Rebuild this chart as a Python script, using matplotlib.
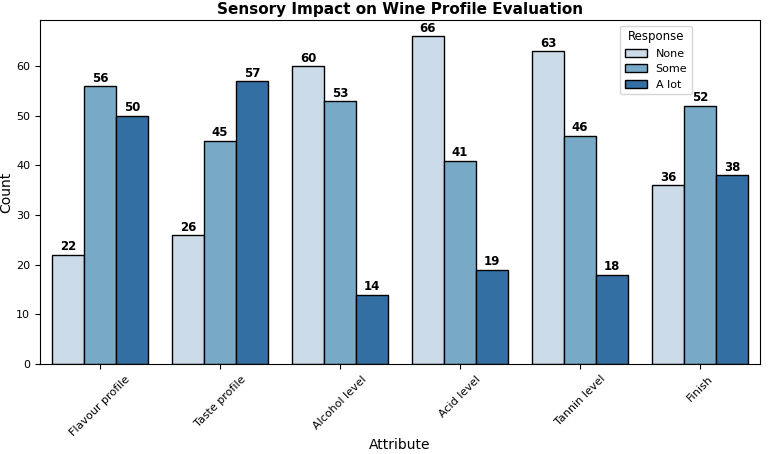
import numpy as np
import pandas as pd
import matplotlib
matplotlib.use("Agg")
import matplotlib.pyplot as plt
import seaborn as sns

attributes = ["Flavour profile", "Taste profile", "Alcohol level",
              "Acid level", "Tannin level", "Finish"]
responses = ["None", "Some", "A lot"]
none_counts = [22, 26, 60, 66, 63, 36]
some_counts = [56, 45, 53, 41, 46, 52]
alot_counts = [50, 57, 14, 19, 18, 38]

rows = []
for resp, vals in zip(responses, [none_counts, some_counts, alot_counts]):
    for attr, v in zip(attributes, vals):
        rows.append({"Attribute": attr, "Response": resp, "Count": v})
df = pd.DataFrame(rows)

fig, ax = plt.subplots(figsize=(7.77, 4.54), dpi=100)
sns.barplot(data=df, x="Attribute", y="Count", hue="Response",
            hue_order=responses, order=attributes, palette="Blues",
            edgecolor="black", ax=ax)

for container in ax.containers:
    ax.bar_label(container, fontsize=8.5, fontweight="bold", padding=1)

ax.set_title("Sensory Impact on Wine Profile Evaluation", fontsize=11,
             fontweight="bold", pad=4)
ax.set_xlabel("Attribute", fontsize=10, labelpad=0)
ax.set_ylabel("Count", fontsize=10, labelpad=2)
ax.tick_params(axis="both", labelsize=8)
plt.setp(ax.get_xticklabels(), rotation=45)
ax.legend(title="Response", fontsize=8, title_fontsize=8.5, loc="upper right",
          bbox_to_anchor=(0.913, 1.0))

fig.subplots_adjust(left=0.0515, right=0.978, top=0.956, bottom=0.198)
fig.savefig("out.png")
